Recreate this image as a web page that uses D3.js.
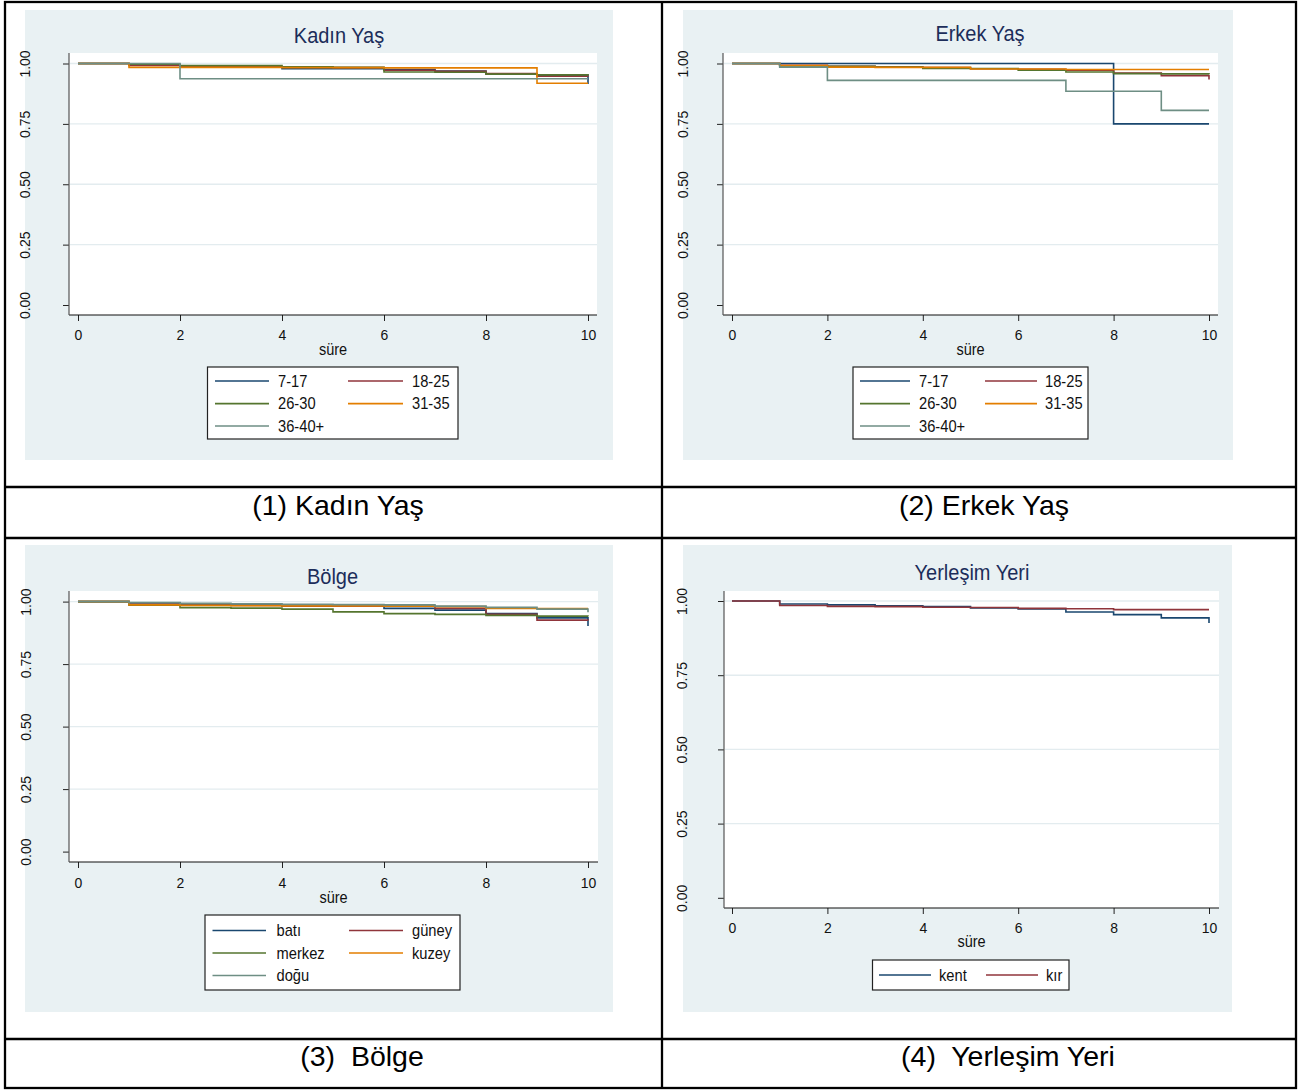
<!DOCTYPE html>
<html>
<head>
<meta charset="utf-8">
<script src="https://cdn.jsdelivr.net/npm/d3@7/dist/d3.min.js"></script>
<style>
  html, body { margin: 0; padding: 0; background: #ffffff; }
  svg { display: block; }
  text { font-family: "Liberation Sans", Arial, Helvetica, sans-serif; }
</style>
</head>
<body>
<svg id="fig" width="1316" height="1090"></svg>
<script>
// ---- data -------------------------------------------------------------
// time axis (süre) and ticks
const sure   = [0, 1, 2, 3, 4, 5, 6, 7, 8, 9, 10];
const xTicks = [0, 2, 4, 6, 8, 10];
const yTicks = [0, 0.25, 0.5, 0.75, 1];

// group labels
const yasGruplari = ["7-17", "18-25", "26-30", "31-35", "36-40+"];
const bolgeler    = ["batı", "güney", "merkez", "kuzey", "doğu"];
const yerlesimler = ["kent", "kır"];

// Kaplan-Meier survival estimates, one value per time point 0..10
const kadin_7_17   = [1, 0.995, 0.986, 0.986, 0.978, 0.978, 0.975, 0.969, 0.957, 0.952, 0.915];
const kadin_18_25  = [1, 0.992, 0.988, 0.987, 0.985, 0.983, 0.972, 0.968, 0.958, 0.947, 0.945];
const kadin_26_30  = [1, 0.997, 0.991, 0.991, 0.986, 0.984, 0.965, 0.964, 0.956, 0.953, 0.950];
const kadin_31_35  = [1, 0.984, 0.984, 0.984, 0.983, 0.983, 0.982, 0.982, 0.982, 0.918, 0.918];
const kadin_36_40  = [1, 1.000, 0.937, 0.937, 0.937, 0.937, 0.937, 0.937, 0.937, 0.937, 0.937];

const erkek_7_17   = [1, 1.000, 1.000, 1.000, 1.000, 1.000, 1.000, 1.000, 0.750, 0.750, 0.750];
const erkek_18_25  = [1, 0.993, 0.988, 0.986, 0.983, 0.978, 0.976, 0.972, 0.960, 0.950, 0.934];
const erkek_26_30  = [1, 0.990, 0.988, 0.985, 0.980, 0.979, 0.972, 0.965, 0.958, 0.957, 0.955];
const erkek_31_35  = [1, 0.992, 0.985, 0.984, 0.984, 0.977, 0.977, 0.975, 0.975, 0.975, 0.975];
const erkek_36_40  = [1, 0.985, 0.930, 0.930, 0.930, 0.930, 0.930, 0.885, 0.885, 0.806, 0.806];

const bolge_bati   = [1, 0.995, 0.990, 0.988, 0.986, 0.982, 0.973, 0.966, 0.952, 0.935, 0.902];
const bolge_guney  = [1, 0.990, 0.986, 0.985, 0.982, 0.982, 0.982, 0.973, 0.949, 0.926, 0.924];
const bolge_merkez = [1, 0.986, 0.976, 0.974, 0.970, 0.959, 0.952, 0.949, 0.945, 0.942, 0.940];
const bolge_kuzey  = [1, 0.987, 0.985, 0.984, 0.983, 0.983, 0.982, 0.980, 0.973, 0.972, 0.972];
const bolge_dogu   = [1, 0.996, 0.993, 0.991, 0.989, 0.988, 0.987, 0.982, 0.977, 0.970, 0.957];

const yer_kent     = [1, 0.990, 0.987, 0.984, 0.981, 0.977, 0.973, 0.963, 0.954, 0.943, 0.926];
const yer_kir      = [1, 0.985, 0.982, 0.981, 0.979, 0.978, 0.975, 0.974, 0.971, 0.971, 0.971];

// ---- styling ----------------------------------------------------------
const seriesColors = ["#1a476f", "#90353b", "#55752f", "#e37e00", "#6e8e84"];
const BG_COLOR    = "#e9f1f3";
const GRID_COLOR  = "#e3ecef";
const TITLE_COLOR = "#1c2d5a";
const NARROW = 0.92;   // horizontal glyph squeeze of the graph font

const svg = d3.select("#fig");

function drawPanel(s) {
  const g = svg.append("g");

  // graph region and plot region
  g.append("rect")
    .attr("x", s.bg[0]).attr("y", s.bg[1])
    .attr("width", s.bg[2] - s.bg[0]).attr("height", s.bg[3] - s.bg[1])
    .attr("fill", BG_COLOR);
  g.append("rect")
    .attr("x", s.plot[0]).attr("y", s.plot[1])
    .attr("width", s.plot[2] - s.plot[0]).attr("height", s.plot[3] - s.plot[1])
    .attr("fill", "#ffffff");

  const x = d3.scaleLinear().domain([0, 10]).range(s.xr);
  const y = d3.scaleLinear().domain([0, 1]).range(s.yr);

  // horizontal grid lines
  g.selectAll("line.grid")
    .data(yTicks.filter(v => v > 0))
    .join("line")
    .attr("class", "grid")
    .attr("x1", s.plot[0] + 1).attr("x2", s.plot[2])
    .attr("y1", d => y(d)).attr("y2", d => y(d))
    .attr("stroke", GRID_COLOR).attr("stroke-width", 1.4);

  // title
  g.append("text")
    .attr("transform", `translate(${s.titleX},${s.titleBase}) scale(0.93,1)`)
    .attr("text-anchor", "middle")
    .attr("font-size", 21.5)
    .attr("fill", TITLE_COLOR)
    .text(s.title);

  // survival step curves
  const stepLine = d3.line()
    .x((d, i) => x(sure[i]))
    .y(d => y(d))
    .curve(d3.curveStepAfter);
  s.series.forEach((vals, i) => {
    g.append("path")
      .datum(vals)
      .attr("d", stepLine)
      .attr("fill", "none")
      .attr("stroke", seriesColors[i])
      .attr("stroke-width", 1.6);
  });

  // x axis
  const ax = g.append("g")
    .attr("transform", `translate(0,${s.plot[3]})`)
    .call(d3.axisBottom(x).tickValues(xTicks).tickSize(6).tickSizeOuter(0));
  ax.attr("font-family", null).attr("font-size", null);
  ax.select(".domain").remove();
  ax.selectAll(".tick line").attr("stroke", "#222").attr("stroke-width", 1);
  ax.selectAll(".tick text")
    .attr("y", null).attr("dy", null)
    .attr("transform", `translate(0,${s.xlabOff}) scale(${NARROW},1)`)
    .attr("font-size", 15.2)
    .attr("fill", "#111");
  g.append("line")
    .attr("x1", s.plot[0]).attr("x2", s.plot[2])
    .attr("y1", s.plot[3]).attr("y2", s.plot[3])
    .attr("stroke", "#111").attr("stroke-width", 1.2);

  // y axis
  const ay = g.append("g")
    .attr("transform", `translate(${s.plot[0]},0)`)
    .call(d3.axisLeft(y).tickValues(yTicks).tickFormat(d3.format(".2f")).tickSize(6).tickSizeOuter(0));
  ay.attr("font-family", null).attr("font-size", null);
  ay.select(".domain").remove();
  ay.selectAll(".tick line").attr("stroke", "#222").attr("stroke-width", 1);
  ay.selectAll(".tick text")
    .attr("x", null).attr("dy", null)
    .attr("text-anchor", "middle")
    .attr("transform", `translate(${s.ylabOff},0) rotate(-90) scale(${NARROW},1)`)
    .attr("font-size", 15.2)
    .attr("fill", "#111");
  g.append("line")
    .attr("x1", s.plot[0]).attr("x2", s.plot[0])
    .attr("y1", s.plot[1]).attr("y2", s.plot[3])
    .attr("stroke", "#555").attr("stroke-width", 1.2);

  // x axis title
  g.append("text")
    .attr("transform", `translate(${(s.plot[0] + s.plot[2]) / 2},${s.sureBase}) scale(${NARROW},1)`)
    .attr("text-anchor", "middle")
    .attr("font-size", 15.8)
    .attr("fill", "#111")
    .text("süre");

  // legend
  const L = s.legend;
  g.append("rect")
    .attr("x", L.box[0]).attr("y", L.box[1])
    .attr("width", L.box[2] - L.box[0]).attr("height", L.box[3] - L.box[1])
    .attr("fill", "#ffffff")
    .attr("stroke", "#222").attr("stroke-width", 1.2);
  s.labels.forEach((lab, i) => {
    const row = Math.floor(i / 2), col = i % 2;
    const cy = L.rows[row];
    const c = L.cols[col];
    g.append("line")
      .attr("x1", c[0]).attr("x2", c[1])
      .attr("y1", cy).attr("y2", cy)
      .attr("stroke", seriesColors[i]).attr("stroke-width", 1.6);
    g.append("text")
      .attr("transform", `translate(${c[2]},${cy + 5.6}) scale(0.93,1)`)
      .attr("font-size", 15.8)
      .attr("fill", "#111")
      .text(lab);
  });
}

// ---- panels -------------------------------------------------------------
drawPanel({
  title: "Kadın Yaş", titleX: 339, titleBase: 43,
  bg: [25, 10, 613, 460], plot: [69, 53, 597, 315],
  xr: [78, 588], yr: [305, 63.5],
  xlabOff: 24.5, ylabOff: -39, sureBase: 355,
  series: [kadin_7_17, kadin_18_25, kadin_26_30, kadin_31_35, kadin_36_40],
  labels: yasGruplari,
  legend: { box: [207.5, 367, 458, 439], rows: [381, 403.6, 426],
            cols: [[215, 269, 278], [348, 403, 412]] }
});

drawPanel({
  title: "Erkek Yaş", titleX: 980, titleBase: 40.5,
  bg: [683, 10, 1233, 460], plot: [723, 53, 1218, 315],
  xr: [732, 1209], yr: [305, 63.5],
  xlabOff: 24.5, ylabOff: -35, sureBase: 355,
  series: [erkek_7_17, erkek_18_25, erkek_26_30, erkek_31_35, erkek_36_40],
  labels: yasGruplari,
  legend: { box: [853, 367, 1088, 439], rows: [381, 403.6, 426],
            cols: [[860, 910, 919], [985, 1037, 1045]] }
});

drawPanel({
  title: "Bölge", titleX: 332.5, titleBase: 584,
  bg: [25, 545, 613, 1012], plot: [69, 591, 598, 862],
  xr: [78, 588], yr: [851.6, 601.6],
  xlabOff: 25.5, ylabOff: -38, sureBase: 903,
  series: [bolge_bati, bolge_guney, bolge_merkez, bolge_kuzey, bolge_dogu],
  labels: bolgeler,
  legend: { box: [205, 915, 460, 990], rows: [930.5, 953, 975.5],
            cols: [[212.5, 266, 276.5], [349, 403, 412]] }
});

drawPanel({
  title: "Yerleşim Yeri", titleX: 972, titleBase: 580,
  bg: [683, 545, 1232, 1012], plot: [724, 591, 1219, 908],
  xr: [732, 1209], yr: [897.8, 601],
  xlabOff: 24.5, ylabOff: -37, sureBase: 947,
  series: [yer_kent, yer_kir],
  labels: yerlesimler,
  legend: { box: [872.5, 960, 1069, 990], rows: [975],
            cols: [[879, 931, 939], [986, 1038, 1046]] }
});

// ---- surrounding table and captions -------------------------------------
const tbl = svg.append("g").attr("stroke", "#000").attr("stroke-width", 2.3);
tbl.append("rect").attr("x", 5).attr("y", 2).attr("width", 1291).attr("height", 1086).attr("fill", "none");
tbl.append("line").attr("x1", 662).attr("x2", 662).attr("y1", 2).attr("y2", 1088);
[487, 538, 1039].forEach(yy =>
  tbl.append("line").attr("x1", 5).attr("x2", 1296).attr("y1", yy).attr("y2", yy));

const captions = [
  { t: "(1) Kadın Yaş",        x: 338,  y: 515 },
  { t: "(2) Erkek Yaş",        x: 984,  y: 515 },
  { t: "(3)  Bölge",           x: 362,  y: 1066 },
  { t: "(4)  Yerleşim Yeri",   x: 1008, y: 1066 }
];
svg.selectAll("text.caption")
  .data(captions)
  .join("text")
  .attr("class", "caption")
  .attr("x", d => d.x).attr("y", d => d.y)
  .attr("text-anchor", "middle")
  .attr("font-size", 28.5)
  .attr("fill", "#000")
  .style("white-space", "pre")
  .text(d => d.t);
</script>
</body>
</html>
